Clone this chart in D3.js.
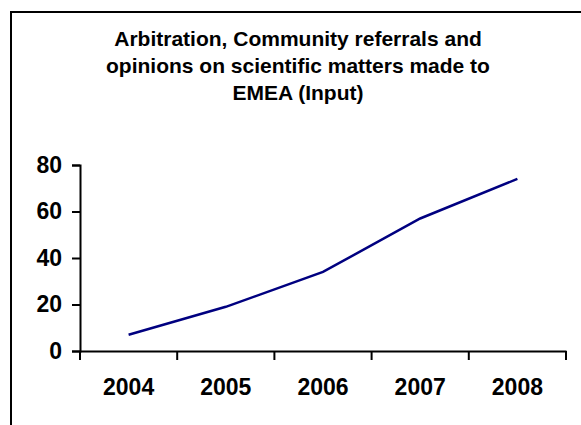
<!DOCTYPE html>
<html>
<head>
<meta charset="utf-8">
<style>
body { margin: 0; background: white; }
text { font-family: "Liberation Sans", Arial, sans-serif; font-weight: bold; }
</style>
<script src="https://d3js.org/d3.v7.min.js"></script>
</head>
<body>
<div id="chart"></div>
<script>
var years = ["2004", "2005", "2006", "2007", "2008"];
var referrals = [7, 19, 34, 57, 74];
var yTicks = [0, 20, 40, 60, 80];
var titleLines = ["Arbitration, Community referrals and",
                  "opinions on scientific matters made to",
                  "EMEA (Input)"];

var W = 581, H = 425;
var svg = d3.select("#chart").append("svg")
    .attr("width", W)
    .attr("height", H);

// outer frame, runs off the right and bottom edges
svg.append("rect")
    .attr("x", 11).attr("y", 12)
    .attr("width", 600).attr("height", 500)
    .attr("fill", "white")
    .attr("stroke", "black")
    .attr("stroke-width", 2);

svg.selectAll(".title")
    .data(titleLines)
    .enter().append("text")
    .attr("class", "title")
    .attr("x", 298)
    .attr("y", function(d, i) { return 46 + 27 * i; })
    .attr("text-anchor", "middle")
    .attr("font-size", "21px")
    .text(function(d) { return d; });

var x = d3.scaleBand().domain(years).range([80, 566]);
var y = d3.scaleLinear().domain([0, 80]).range([351, 165]);

var yAxis = svg.append("g")
    .attr("transform", "translate(80,0)")
    .call(d3.axisLeft(y).tickValues(yTicks).tickSize(8).tickPadding(10));

var xAxis = svg.append("g")
    .attr("transform", "translate(0,351)")
    .call(d3.axisBottom(x).tickSize(0).tickPadding(28));

// ticks sit between categories, like the original
xAxis.selectAll(".sep")
    .data(d3.range(years.length + 1))
    .enter().append("line")
    .attr("class", "sep")
    .attr("x1", function(i) { return 80 + i * x.step(); })
    .attr("x2", function(i) { return 80 + i * x.step(); })
    .attr("y1", 0).attr("y2", 9)
    .attr("stroke", "black")
    .attr("stroke-width", 2);

svg.selectAll(".domain").attr("stroke-width", 2).attr("stroke", "black");
svg.selectAll(".tick line").attr("stroke-width", 2);
svg.selectAll(".tick text")
    .attr("font-size", "23px")
    .attr("font-family", "'Liberation Sans', Arial, sans-serif")
    .attr("font-weight", "bold")
    .attr("fill", "black");

var line = d3.line()
    .x(function(d, i) { return x(years[i]) + x.bandwidth() / 2; })
    .y(function(d) { return y(d); });

svg.append("path")
    .datum(referrals)
    .attr("d", line)
    .attr("fill", "none")
    .attr("stroke", "#000080")
    .attr("stroke-width", 2.5);
</script>
</body>
</html>
